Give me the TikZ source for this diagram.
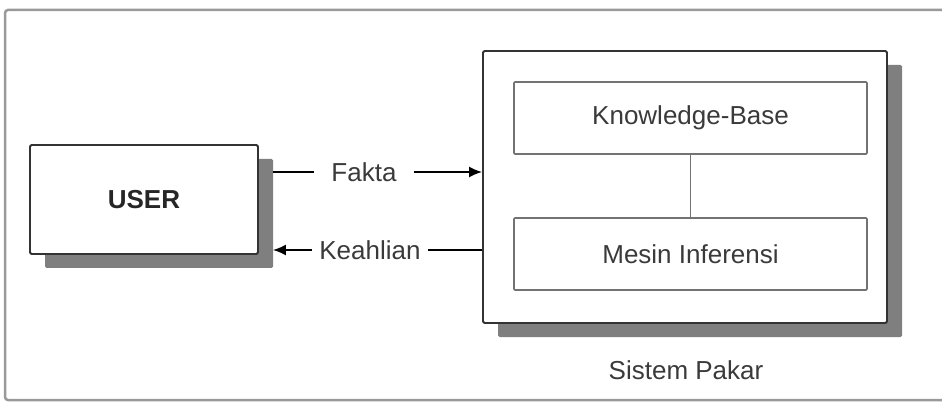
\documentclass[tikz,border=0pt]{standalone}
\usepackage{tikz}
\usepackage{xcolor}
\usepackage{fontspec}
\setmainfont{Liberation Sans}
\usetikzlibrary{shapes, arrows, arrows.meta, shadows, calc, positioning, fit}

\definecolor{garis}{HTML}{333333}
\definecolor{bayang}{HTML}{7F7F7F}
\definecolor{teks}{HTML}{3A3A3A}

\tikzset{
    blok/.style = {draw = garis, line width = 1.8pt, fill = white, rounded corners = 1.5pt,
        drop shadow = {shadow xshift = 15pt, shadow yshift = -14pt, fill = bayang, opacity = 1}},
    subblok/.style = {draw = black!55, line width = 1.6pt, fill = white, rounded corners = 1pt,
        minimum width = 353pt, minimum height = 72pt, text = teks},
    label/.style = {text = teks, font = \fontsize{26}{30}\selectfont},
    panah/.style = {draw = black, line width = 1.8pt}
}

\begin{document}
\begin{tikzpicture}[x = 1pt, y = -1pt]%{{{
                \useasboundingbox (0, 0) rectangle (942, 403);
                \draw [black!40, line width = 2.5pt, rounded corners = 3pt] (942, 10) -- (5, 10) -- (5, 400) -- (942, 400);

                \node (user) [blok, minimum width = 228pt, minimum height = 109pt, font = \fontsize{26}{30}\selectfont\bfseries, text = black!85] at (144, 199.5) { USER };
                \node (sp) [blok, minimum width = 404pt, minimum height = 272pt] at (685, 187) {};
                \node (kb) [subblok, font = \fontsize{26}{30}\selectfont] at (690.5, 118) { Knowledge-Base };
                \node (mi) [subblok, font = \fontsize{26}{30}\selectfont] at (690.5, 254) { Mesin Inferensi };
                \node (pakar) [label] at (686, 370) { Sistem Pakar };

                \node (fakta) [label, inner xsep = 17pt] at (364, 172) { Fakta };
                \node (keahlian) [label, inner xsep = 7pt] at (370, 250) { Keahlian };

                \draw [black!55, line width = 1.6pt] (kb) -- (mi);

                \draw [panah, shorten < = 14pt] (user.east |- fakta) -- (fakta.west);
                \draw [panah, -{Latex[length = 13pt, width = 11pt]}] (fakta.east) -- (sp.west |- fakta);
                \draw [panah] (sp.west |- keahlian) -- (keahlian.east);
                \draw [panah, -{Latex[length = 13pt, width = 11pt]}, shorten > = 14pt] (keahlian.west) -- (user.east |- keahlian);
            \end{tikzpicture}
\end{document}
